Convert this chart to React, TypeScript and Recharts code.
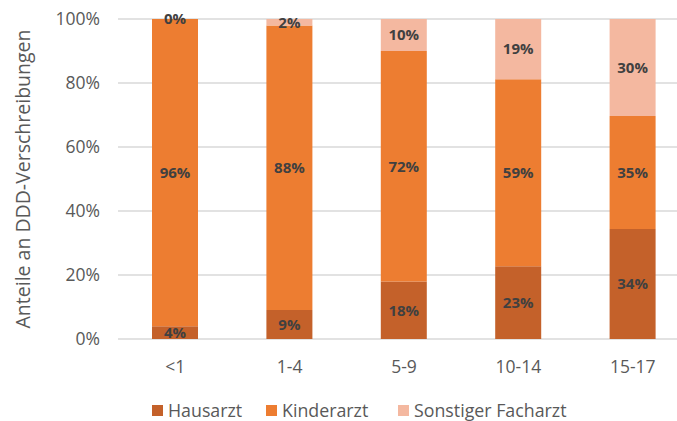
import React from "react";
import { BarChart, Bar, XAxis, YAxis, CartesianGrid, LabelList } from "recharts";

const categories = ["<1", "1-4", "5-9", "10-14", "15-17"];
const hausarzt = [4, 9, 18, 23, 34];
const kinderarzt = [96, 88, 72, 59, 35];
const sonstiger = [0, 2, 10, 19, 30];
const yTicks = [0, 0.2, 0.4, 0.6, 0.8, 1];
const seriesNames = ["Hausarzt", "Kinderarzt", "Sonstiger Facharzt"];

const data = categories.map((c, i) => ({
  cat: c,
  Hausarzt: hausarzt[i],
  Kinderarzt: kinderarzt[i],
  "Sonstiger Facharzt": sonstiger[i],
}));

const FONT = "'Open Sans', sans-serif";
const seriesColors = ["#C4612A", "#ED7D31", "#F4B8A0"];
const legendItemWidths = [114, 132, 180];

const pct = (v: any) => `${Array.isArray(v) ? v[1] - v[0] : v}%`;

const labelStyle = { fill: "#404040", fontWeight: 700, fontSize: 15, fontFamily: FONT };

export default function App() {
  return (
    <div style={{ width: 677, height: 421, overflow: "hidden", position: "relative", background: "#fff" }}>
      <style>{`html, body { margin: 0; padding: 0; overflow: hidden; }`}</style>
      <BarChart
        width={690}
        height={421}
        data={data}
        stackOffset="expand"
        margin={{ top: 19, right: 0, left: 0, bottom: 0 }}
        barCategoryGap={0}
      >
        <CartesianGrid vertical={false} stroke="#D9D9D9" strokeWidth={1.5} />
        <XAxis
          dataKey="cat"
          axisLine={false}
          tickLine={false}
          height={82}
          tick={{ fill: "#595959", fontSize: 17.5, fontFamily: FONT }}
          tickMargin={16}
        />
        <YAxis
          width={118}
          domain={[0, 1]}
          ticks={yTicks}
          tickFormatter={(v: number) => `${Math.round(v * 100)}%`}
          axisLine={false}
          tickLine={false}
          tick={{ fill: "#595959", fontSize: 17.5, fontFamily: FONT }}
          tickMargin={12}
          label={{
            value: "Anteile an DDD-Verschreibungen",
            angle: -90,
            position: "insideLeft",
            dx: 18,
            dy: 0,
            style: { textAnchor: "middle", fill: "#595959", fontSize: 19.5, fontFamily: FONT },
          }}
        />
        {seriesNames.map((n, i) => (
          <Bar
            key={n}
            dataKey={n}
            stackId="a"
            fill={seriesColors[i]}
            barSize={46}
            minPointSize={0.01}
            isAnimationActive={false}
          >
            <LabelList dataKey={n} position="center" formatter={pct} style={labelStyle} />
          </Bar>
        ))}
      </BarChart>
      <div
        style={{
          position: "absolute",
          left: 152,
          top: 400,
          height: 20,
          display: "flex",
          alignItems: "center",
          fontFamily: FONT,
          fontSize: 17.8,
          lineHeight: "20px",
          color: "#595959",
        }}
      >
        {seriesNames.map((n, i) => (
          <div key={n} style={{ display: "flex", alignItems: "center", width: legendItemWidths[i], whiteSpace: "nowrap" }}>
            <div style={{ width: 11, height: 11, background: seriesColors[i], marginRight: 5, flexShrink: 0 }} />
            <span>{n}</span>
          </div>
        ))}
      </div>
    </div>
  );
}
